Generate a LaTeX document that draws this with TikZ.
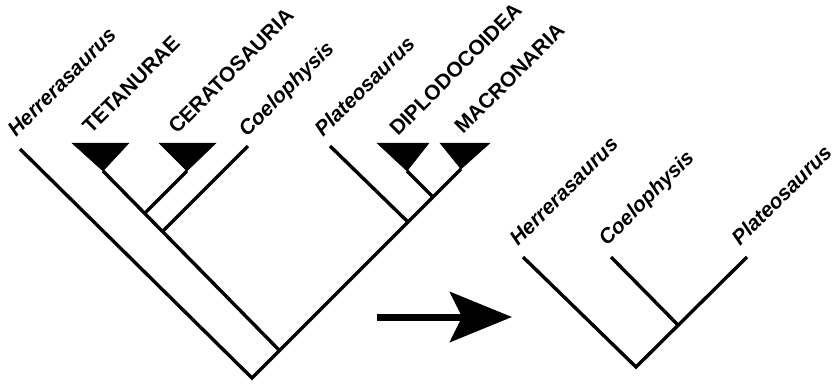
\documentclass[tikz,border=0pt]{standalone}
\usepackage{fontspec}
\setmainfont{Liberation Sans}
\usetikzlibrary{arrows.meta}
\begin{document}
\begin{tikzpicture}[x=1bp,y=-1bp,
  branch/.style={line width=3.4bp, line join=miter, line cap=butt},
  clade/.style={fill=black, draw=black, line width=0.5bp, line join=miter},
  lbl/.style={rotate=45, anchor=base west, inner sep=0pt,
    font=\fontsize{21}{21}\selectfont\bfseries},
  taxon/.style={lbl, font=\fontsize{21}{21}\selectfont\bfseries\itshape},
  bigarrow/.style={line width=7bp, -{Stealth[length=62bp,width=50bp,inset=12bp]}}]
\useasboundingbox (0,0) rectangle (833,383);

% ---- full tree ----
\coordinate (L0) at (252,378);
\coordinate (herrL) at (20,149);
\coordinate (tetJ) at (280,351);
\coordinate (tetA) at (103,171);
\coordinate (ceraJ) at (145,213);
\coordinate (ceraA) at (187,171);
\coordinate (coelJ) at (163,231);
\coordinate (coelL) at (248,146);
\coordinate (platJ) at (408,222);
\coordinate (platL) at (330,146);
\coordinate (diplJ) at (433,197);
\coordinate (diplA) at (407,171);
\coordinate (macA) at (461,169);

% collapsed clades
\fill[clade] (72,143) -- (129,143) -- (tetA) -- cycle;
\fill[clade] (159,143) -- (216,143) -- (ceraA) -- cycle;
\fill[clade] (377,143) -- (429,143) -- (diplA) -- cycle;
\fill[clade] (440,143) -- (490,143) -- (macA) -- cycle;

\draw[branch] (herrL) -- (L0) -- (macA);
\draw[branch] (tetA) -- (tetJ);
\draw[branch] (ceraA) -- (ceraJ);
\draw[branch] (coelL) -- (coelJ);
\draw[branch] (platL) -- (platJ);
\draw[branch] (diplA) -- (diplJ);

\node[taxon] (tHerrL) at (16,138) {Herrerasaurus};
\node[lbl]   (tTet)   at (91,135) {TETANURAE};
\node[lbl]   (tCera)  at (177,135) {CERATOSAURIA};
\node[taxon] (tCoelL) at (247,138) {Coelophysis};
\node[taxon] (tPlatL) at (323,138) {Plateosaurus};
\node[lbl]   (tDipl)  at (398,137) {DIPLODOCOIDEA};
\node[lbl]   (tMac)   at (463,135) {MACRONARIA};

% ---- arrow ----
\coordinate (arrS) at (377,317);
\coordinate (arrE) at (512,317);
\draw[bigarrow] (arrS) -- (arrE);

% ---- pruned tree ----
\coordinate (R0) at (636,367);
\coordinate (herrR) at (523,257);
\coordinate (coelR) at (611,257);
\coordinate (coelRJ) at (678,325);
\coordinate (platR) at (747,257);

\draw[branch] (herrR) -- (R0) -- (platR);
\draw[branch] (coelR) -- (coelRJ);

\node[taxon] (tHerrR) at (518,247) {Herrerasaurus};
\node[taxon] (tCoelR) at (607,247) {Coelophysis};
\node[taxon] (tPlatR) at (740,247) {Plateosaurus};
\end{tikzpicture}
\end{document}
